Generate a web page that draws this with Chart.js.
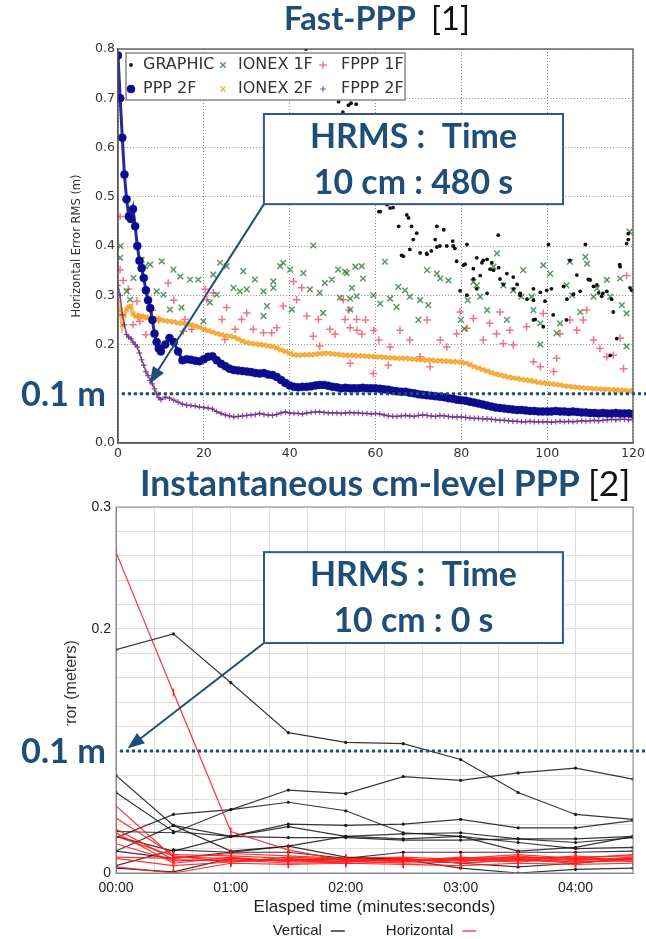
<!DOCTYPE html>
<html>
<head>
<meta charset="utf-8">
<script src="https://cdn.jsdelivr.net/npm/chart.js"></script>
<style>
  html, body { margin: 0; padding: 0; background: #fff; }
  body { width: 646px; height: 939px; position: relative; overflow: hidden; }
  canvas { position: absolute; left: 0; }
  #fastPPP { top: 0; }
  #instantPPP { top: 460px; }
</style>
</head>
<body>
<canvas id="fastPPP" width="646" height="460"></canvas>
<canvas id="instantPPP" width="646" height="479"></canvas>
<script>
// ---------- Fast-PPP [1] : horizontal error RMS (m) vs time (min) ----------
// epochs: every 0.5 min up to 10 min, then every minute
var fineT = [];
for (var t = 0; t <= 10; t += 0.5) fineT.push(t);
for (var t = 11; t <= 120; t++) fineT.push(t);

var ppp2f = [0.787,0.70,0.62,0.545,0.495,0.46,0.455,0.475,0.44,0.40,0.37,0.355,0.335,0.31,0.29,0.274,0.25,0.222,0.205,0.192,0.186,
  0.200,0.213,0.205,0.186,0.168,0.170,0.169,0.167,0.166,0.170,
  0.175,0.176,0.168,0.161,0.156,0.151,0.148,0.147,0.146,0.145,
  0.144,0.142,0.141,0.142,0.139,0.138,0.134,0.128,0.122,0.117,
  0.114,0.113,0.114,0.114,0.115,0.117,0.118,0.118,0.116,0.114,
  0.113,0.111,0.112,0.111,0.111,0.111,0.112,0.111,0.111,0.111,
  0.110,0.109,0.108,0.106,0.105,0.104,0.104,0.102,0.101,0.099,
  0.098,0.097,0.096,0.095,0.094,0.093,0.091,0.090,0.088,0.087,
  0.086,0.084,0.082,0.080,0.078,0.076,0.074,0.072,0.071,0.070,
  0.069,0.068,0.067,0.067,0.066,0.065,0.065,0.064,0.064,0.064,
  0.064,0.065,0.064,0.064,0.063,0.064,0.063,0.062,0.062,0.061,
  0.061,0.060,0.061,0.060,0.060,0.061,0.060,0.060,0.060,0.059];

var ionex2f = [0.29,0.27,0.24,0.26,0.272,0.276,0.278,0.262,0.258,0.257,0.256,0.258,0.256,0.255,0.254,0.254,0.252,0.253,0.251,0.250,0.250,
  0.248,0.247,0.246,0.244,0.243,0.242,0.240,0.238,0.235,0.231,
  0.228,0.225,0.222,0.220,0.218,0.217,0.215,0.211,0.207,0.204,
  0.202,0.201,0.200,0.199,0.197,0.196,0.193,0.189,0.186,0.182,
  0.179,0.178,0.179,0.179,0.179,0.180,0.181,0.182,0.182,0.181,
  0.180,0.179,0.178,0.178,0.178,0.177,0.177,0.176,0.176,0.175,
  0.175,0.174,0.173,0.173,0.172,0.172,0.172,0.171,0.170,0.169,
  0.169,0.168,0.168,0.167,0.167,0.166,0.166,0.165,0.165,0.164,
  0.162,0.159,0.155,0.152,0.149,0.146,0.143,0.140,0.138,0.136,
  0.134,0.132,0.131,0.129,0.128,0.127,0.125,0.123,0.122,0.121,
  0.120,0.119,0.118,0.116,0.115,0.114,0.113,0.112,0.111,0.111,
  0.110,0.110,0.109,0.109,0.108,0.108,0.107,0.107,0.106,0.106];

var fppp2f = [0.32,0.30,0.26,0.24,0.22,0.215,0.212,0.205,0.200,0.195,0.183,0.169,0.158,0.145,0.137,0.127,0.120,0.110,0.100,0.092,0.088,
  0.093,0.091,0.087,0.083,0.079,0.077,0.076,0.075,0.073,0.072,
  0.071,0.069,0.064,0.060,0.057,0.055,0.053,0.054,0.055,0.056,
  0.057,0.058,0.060,0.058,0.057,0.056,0.058,0.061,0.063,0.061,
  0.060,0.060,0.059,0.061,0.062,0.063,0.063,0.062,0.061,0.061,
  0.061,0.060,0.061,0.062,0.061,0.061,0.060,0.060,0.059,0.060,
  0.059,0.057,0.055,0.054,0.054,0.055,0.056,0.055,0.054,0.056,
  0.057,0.056,0.055,0.054,0.056,0.055,0.054,0.053,0.053,0.053,
  0.052,0.051,0.050,0.050,0.049,0.049,0.048,0.047,0.046,0.046,
  0.045,0.044,0.044,0.043,0.043,0.044,0.043,0.043,0.043,0.043,
  0.042,0.043,0.044,0.043,0.044,0.043,0.044,0.045,0.044,0.045,
  0.046,0.045,0.046,0.047,0.048,0.047,0.048,0.048,0.047,0.048];

// scattered single-frequency solutions [minute, metres]
var graphicPts = [[43.8,0.800],[51.4,0.693],[52.4,0.672],[53.7,0.686],[54.3,0.690],[55.5,0.688],[56.0,0.620],[58.0,0.560],[59.5,0.520],
  [60.8,0.470],[61.1,0.470],[62.7,0.484],[63.4,0.477],[64.1,0.478],[65.4,0.440],[66.1,0.381],[66.5,0.379],[67.3,0.463],[67.7,0.457],
  [68.0,0.393],[68.4,0.440],[68.8,0.413],[69.6,0.426],[70.4,0.386],[71.9,0.385],[72.0,0.383],[73.0,0.390],[73.9,0.413],[74.3,0.440],
  [74.3,0.398],[75.0,0.400],[75.9,0.433],[76.6,0.400],[78.0,0.410],[78.1,0.400],[78.5,0.395],[78.9,0.369],[79.7,0.309],[80.5,0.361],
  [80.9,0.363],[81.3,0.403],[81.3,0.300],[82.8,0.333],[82.8,0.354],[83.6,0.376],[83.6,0.313],[84.4,0.340],[84.8,0.366],[85.1,0.371],
  [86.0,0.373],[86.0,0.304],[86.7,0.353],[87.1,0.366],[87.5,0.351],[88.6,0.422],[88.7,0.356],[89.0,0.333],[89.8,0.322],[90.6,0.344],
  [92.1,0.337],[92.2,0.313],[93.0,0.322],[93.7,0.300],[93.7,0.304],[95.3,0.292],[96.8,0.313],[96.8,0.290],[96.8,0.250],[97.2,0.251],
  [98.4,0.306],[99.1,0.236],[99.5,0.288],[99.9,0.310],[100.3,0.403],[101.0,0.313],[101.4,0.260],[103.8,0.318],[104.5,0.250],[104.6,0.292],
  [105.3,0.371],[106.1,0.302],[106.9,0.341],[107.7,0.308],[108.9,0.403],[109.6,0.332],[110.0,0.331],[110.8,0.318],[111.6,0.321],
  [112.0,0.305],[112.7,0.298],[113.0,0.304],[113.9,0.308],[114.7,0.178],[115.0,0.292],[115.4,0.266],[116.2,0.212],[116.9,0.362],
  [117.0,0.358],[118.5,0.405],[118.9,0.413],[118.9,0.425],[119.3,0.315],[119.7,0.310]];

var ionex1fPts = [[0.5,0.376],[0.6,0.400],[2.0,0.308],[2.8,0.291],[3.6,0.335],[5.5,0.372],[6.3,0.359],[7.5,0.362],[9.0,0.308],[10.2,0.369],
  [10.6,0.301],[12.1,0.271],[12.9,0.352],[14.5,0.338],[14.8,0.275],[16.8,0.332],[18.7,0.332],[19.9,0.247],[21.4,0.285],[22.2,0.342],
  [23.0,0.301],[23.8,0.366],[25.3,0.359],[26.9,0.315],[28.4,0.308],[29.2,0.349],[30.0,0.312],[31.9,0.332],[33.9,0.308],[33.9,0.258],
  [34.7,0.278],[36.2,0.328],[36.2,0.315],[37.8,0.359],[38.5,0.366],[40.1,0.352],[40.5,0.271],[43.2,0.345],[44.7,0.312],[45.5,0.401],
  [47.0,0.305],[47.8,0.264],[48.2,0.325],[49.8,0.332],[51.3,0.352],[51.7,0.295],[52.9,0.348],[53.3,0.345],[54.1,0.271],[54.1,0.293],
  [54.5,0.315],[55.3,0.358],[55.6,0.298],[56.8,0.359],[57.1,0.334],[59.5,0.300],[61.1,0.283],[62.2,0.368],[63.4,0.293],[64.9,0.276],
  [65.3,0.317],[66.9,0.310],[68.0,0.297],[70.0,0.250],[70.4,0.290],[72.0,0.351],[72.3,0.280],[74.3,0.344],[75.1,0.334],[77.0,0.330],
  [79.9,0.250],[80.7,0.232],[81.5,0.290],[82.8,0.327],[83.6,0.320],[84.4,0.297],[86.0,0.270],[87.5,0.358],[88.3,0.385],[89.8,0.320],
  [90.6,0.250],[92.1,0.310],[94.0,0.297],[94.4,0.351],[96.4,0.297],[96.8,0.270],[98.4,0.243],[98.4,0.200],[99.1,0.361],[100.7,0.344],
  [102.2,0.223],[103.0,0.243],[104.5,0.320],[105.3,0.368],[105.8,0.300],[107.7,0.266],[108.9,0.378],[109.3,0.364],[110.8,0.297],
  [111.6,0.314],[113.9,0.331],[114.7,0.297],[117.0,0.334],[117.4,0.280],[118.5,0.263],[118.5,0.196],[119.2,0.429]];

var fppp1fPts = [[0.5,0.460],[0.5,0.352],[1.2,0.330],[2.4,0.312],[3.5,0.240],[4.4,0.288],[4.7,0.257],[5.1,0.247],[6.5,0.220],[8.0,0.270],
  [9.5,0.250],[11.7,0.325],[13.0,0.290],[15.2,0.227],[15.6,0.251],[17.2,0.231],[20.3,0.312],[20.7,0.291],[22.2,0.305],[24.2,0.251],
  [24.9,0.210],[25.3,0.275],[27.3,0.231],[28.8,0.251],[30.0,0.264],[31.5,0.231],[33.9,0.224],[35.8,0.224],[37.0,0.234],[38.5,0.278],
  [40.9,0.328],[41.6,0.291],[42.8,0.315],[44.0,0.258],[45.5,0.217],[46.7,0.251],[47.0,0.197],[49.4,0.231],[50.6,0.221],[52.5,0.291],
  [52.9,0.251],[53.8,0.270],[54.1,0.234],[54.1,0.162],[55.6,0.251],[55.7,0.229],[56.8,0.221],[57.7,0.250],[59.5,0.141],[59.6,0.229],
  [60.8,0.209],[63.0,0.158],[63.4,0.195],[65.7,0.229],[68.0,0.209],[70.4,0.175],[72.0,0.250],[72.7,0.155],[75.1,0.209],[76.6,0.195],
  [78.9,0.222],[79.7,0.266],[81.3,0.233],[82.8,0.253],[85.1,0.209],[86.6,0.243],[88.2,0.222],[89.0,0.266],[89.8,0.202],[91.3,0.229],
  [92.1,0.199],[95.2,0.236],[96.8,0.165],[98.4,0.155],[99.1,0.263],[101.5,0.145],[102.2,0.172],[103.0,0.222],[105.3,0.250],[106.9,0.229],
  [108.4,0.250],[109.2,0.270],[110.8,0.209],[112.3,0.192],[113.9,0.175],[115.4,0.178],[117.0,0.213],[117.8,0.151],[118.5,0.340]];

var legend1Order = ['GRAPHIC', 'IONEX 1F', 'FPPP 1F', 'PPP 2F', 'IONEX 2F', 'FPPP 2F'];

// ---------- Instantaneous cm-level PPP [2] : error (m) vs elapsed time (s) ----------
var times2 = [0, 30, 60, 90, 120, 150, 180, 210, 240, 270];

var verticalErr = [
  [0.183,0.196,0.156,0.115,0.107,0.106,0.093,0.066,0.048,0.044],
  [0.029,0.048,0.052,0.068,0.065,0.079,0.076,0.082,0.086,0.077],
  [0.080,0.039,0.018,0.022,0.013,0.011,0.004,0.000,0.003,0.004],
  [0.066,0.034,0.030,0.040,0.039,0.040,0.044,0.037,0.037,0.043],
  [0.034,0.033,0.052,0.058,0.051,0.033,0.030,0.025,0.020,0.021],
  [0.018,0.039,0.030,0.038,0.030,0.032,0.033,0.028,0.025,0.029],
  [0.030,0.018,0.030,0.029,0.029,0.027,0.027,0.028,0.028,0.030],
  [0.006,0.019,0.017,0.022,0.030,0.028,0.030,0.018,0.021,0.030],
  [0.018,0.012,0.017,0.017,0.012,0.017,0.017,0.017,0.017,0.018],
  [0.004,0.001,0.012,0.010,0.012,0.012,0.008,0.005,0.008,0.012]
];

var horizontalErr = [
  [0.263,0.148,0.034,0.019,0.010,0.012,0.008,0.011,0.009,0.010],
  [0.055,0.013,0.012,0.010,0.011,0.009,0.012,0.013,0.011,0.012],
  [0.045,0.015,0.014,0.012,0.009,0.011,0.010,0.012,0.013,0.014],
  [0.036,0.011,0.010,0.011,0.012,0.013,0.011,0.009,0.012,0.011],
  [0.033,0.008,0.013,0.009,0.010,0.008,0.009,0.014,0.010,0.013],
  [0.030,0.014,0.009,0.013,0.011,0.010,0.013,0.010,0.014,0.009],
  [0.024,0.010,0.011,0.008,0.009,0.012,0.008,0.011,0.008,0.012],
  [0.013,0.012,0.016,0.014,0.012,0.010,0.012,0.015,0.012,0.015],
  [0.005,0.000,0.008,0.007,0.008,0.007,0.006,0.008,0.007,0.008],
  [0.012,0.006,0.009,0.011,0.008,0.009,0.011,0.012,0.009,0.011]
];

// ---------- helpers ----------
function pts(list) { return list.map(function (p) { return { x: p[0], y: p[1] }; }); }
function series(tt, vv) { return tt.map(function (x, i) { return { x: x, y: vv[i] }; }); }

function fitSize(ctx, text, weight, family, width) {
  ctx.font = weight + ' 100px ' + family;
  return 100 * width / ctx.measureText(text).width;
}

function drawArrow(ctx, x1, y1, x2, y2, head, wide) {
  var ang = Math.atan2(y2 - y1, x2 - x1), c = Math.cos(ang), s = Math.sin(ang);
  ctx.beginPath();
  ctx.moveTo(x1, y1);
  ctx.lineTo(x2 - c * head * 0.8, y2 - s * head * 0.8);
  ctx.stroke();
  ctx.beginPath();
  ctx.moveTo(x2, y2);
  ctx.lineTo(x2 - head * c + wide / 2 * s, y2 - head * s - wide / 2 * c);
  ctx.lineTo(x2 - head * c - wide / 2 * s, y2 - head * s + wide / 2 * c);
  ctx.closePath();
  ctx.fill();
}

var NAVY = '#1F4E79';

var overlay = {
  id: 'overlay',
  afterDatasetsDraw: function (chart, args, o) {
    var ctx = chart.ctx, a = chart.chartArea;
    ctx.save();
    ctx.strokeStyle = o.frameColor;
    ctx.lineWidth = o.frameWidth;
    ctx.strokeRect(a.left, a.top, a.right - a.left, a.bottom - a.top);
    ctx.restore();
  },
  afterDraw: function (chart, args, o) {
    var ctx = chart.ctx, a = chart.chartArea, xs = chart.scales.x, ys = chart.scales.y;
    var midX = (a.left + a.right) / 2, midY = (a.top + a.bottom) / 2;
    ctx.save();
    ctx.textAlign = 'left';
    ctx.textBaseline = 'alphabetic';

    // title
    var ti = o.title;
    var ts = fitSize(ctx, ti.bold, '700', 'Lato', ti.width);
    ctx.font = '700 ' + ts + 'px Lato';
    ctx.fillStyle = NAVY;
    ctx.fillText(ti.bold, ti.left, ti.baseline);
    ctx.font = '400 ' + ts + 'px Lato';
    ctx.fillStyle = '#111';
    ctx.fillText(ti.rest, ti.restLeft, ti.baseline);

    // y axis title
    ctx.save();
    ctx.translate(a.left - o.yTitleOffset, midY);
    ctx.rotate(-Math.PI / 2);
    ctx.textAlign = 'center';
    ctx.textBaseline = 'middle';
    ctx.font = o.yTitleFont;
    ctx.fillStyle = '#333';
    ctx.fillText(o.yTitle, 0, 0);
    ctx.restore();

    // x axis title + bottom legend
    if (o.xTitle) {
      ctx.textAlign = 'center';
      ctx.font = o.xTitleFont;
      ctx.fillStyle = '#222';
      ctx.fillText(o.xTitle, midX, a.bottom + 39);
    }
    if (o.bottomLegend) {
      ctx.font = '15px "Liberation Sans"';
      ctx.textAlign = 'left';
      ctx.textBaseline = 'middle';
      var items = o.bottomLegend, total = 0, widths = [];
      items.forEach(function (it) { var w = ctx.measureText(it.text).width; widths.push(w); total += w + 9 + 14; });
      total += 41 * (items.length - 1);
      var lx = midX - total / 2, ly = a.bottom + 58;
      items.forEach(function (it, i) {
        ctx.fillStyle = '#222';
        ctx.fillText(it.text, lx, ly);
        lx += widths[i] + 9;
        ctx.strokeStyle = it.color;
        ctx.lineWidth = 1.5;
        ctx.beginPath(); ctx.moveTo(lx, ly); ctx.lineTo(lx + 14, ly); ctx.stroke();
        lx += 14 + 41;
      });
    }

    // legend inside the plot (matplotlib style, 3 columns)
    if (o.insideLegend) {
      var lg = o.insideLegend;
      var bx = a.left + lg.dx, by = a.top + lg.dy;
      ctx.fillStyle = '#fff';
      ctx.fillRect(bx, by, lg.w, lg.h);
      ctx.strokeStyle = '#888';
      ctx.lineWidth = 1.5;
      ctx.strokeRect(bx, by, lg.w, lg.h);
      ctx.font = '16px "DejaVu Sans"';
      ctx.textAlign = 'left';
      ctx.textBaseline = 'middle';
      legend1Order.forEach(function (name, i) {
        var col = i % 3, row = Math.floor(i / 3);
        var ds = chart.data.datasets.filter(function (d) { return d.label === name; })[0];
        var my = by + lg.rowY[row];
        ctx.save();
        ctx.fillStyle = ds.pointBackgroundColor;
        ctx.strokeStyle = ds.pointBorderColor;
        ctx.lineWidth = ds.pointBorderWidth;
        Chart.helpers.drawPoint(ctx, { pointStyle: ds.pointStyle, radius: ds.pointRadius, rotation: 0, borderWidth: ds.pointBorderWidth }, bx + lg.markX[col], my);
        ctx.restore();
        ctx.fillStyle = '#333';
        ctx.fillText(name, bx + lg.textX[col], my);
      });
    }

    // 0.1 m reference line
    var ry = ys.getPixelForValue(o.refValue);
    ctx.strokeStyle = NAVY;
    ctx.lineWidth = 3;
    ctx.setLineDash([3, 3]);
    ctx.beginPath();
    ctx.moveTo(a.left + 4, ry);
    ctx.lineTo(chart.width, ry);
    ctx.stroke();
    ctx.setLineDash([]);

    var ls = fitSize(ctx, o.refLabel, '700', 'Lato', 85);
    var cap = ls * 0.72;
    ctx.fillStyle = '#fff';
    ctx.fillRect(12, ry - cap / 2 - 13, a.left - 14, cap + 20);
    ctx.font = '700 ' + ls + 'px Lato';
    ctx.textAlign = 'left';
    ctx.textBaseline = 'alphabetic';
    ctx.fillStyle = NAVY;
    ctx.fillText(o.refLabel, 21, ry + cap / 2);

    // call-out box and arrow
    var b = o.box;
    var bx0 = xs.getPixelForValue(b.x0), bx1 = xs.getPixelForValue(b.x1);
    var by0 = ys.getPixelForValue(b.y0), by1 = ys.getPixelForValue(b.y1);
    var tx = xs.getPixelForValue(o.tip[0]), ty = ys.getPixelForValue(o.tip[1]);
    ctx.strokeStyle = NAVY;
    ctx.fillStyle = NAVY;
    ctx.lineWidth = 2;
    drawArrow(ctx, bx0, by1, tx, ty, 17, 13);
    ctx.fillStyle = '#fff';
    ctx.fillRect(bx0, by0, bx1 - bx0, by1 - by0);
    ctx.strokeStyle = '#2F5597';
    ctx.lineWidth = 2;
    ctx.strokeRect(bx0, by0, bx1 - bx0, by1 - by0);
    var hs = fitSize(ctx, b.lines[0], '700', 'Lato', 207);
    ctx.font = '700 ' + hs + 'px Lato';
    ctx.fillStyle = NAVY;
    ctx.textAlign = 'center';
    ctx.fillText(b.lines[0], (bx0 + bx1) / 2, by0 + 34);
    ctx.fillText(b.lines[1], (bx0 + bx1) / 2, by0 + 79.5);
    ctx.restore();
  }
};
Chart.register(overlay);

// ---------- chart 1 ----------
var tick1 = { family: 'DejaVu Sans', size: 12.5 };
var purple = 'rgba(118,48,138,0.85)', orange = 'rgba(245,162,38,0.85)';
new Chart(document.getElementById('fastPPP'), {
  type: 'scatter',
  data: {
    datasets: [
      { label: 'PPP 2F', data: series(fineT, ppp2f), showLine: true, borderColor: 'rgba(16,16,150,0.9)', borderWidth: 3,
        pointStyle: 'circle', pointRadius: 4, pointBackgroundColor: '#0c0c8e', pointBorderColor: '#0c0c8e', pointBorderWidth: 0.5 },
      { label: 'FPPP 2F', data: series(fineT, fppp2f), showLine: true, borderColor: purple, borderWidth: 1.5,
        pointStyle: 'cross', pointRadius: 2.8, pointBackgroundColor: purple, pointBorderColor: purple, pointBorderWidth: 1.2 },
      { label: 'IONEX 2F', data: series(fineT, ionex2f), showLine: true, borderColor: 'rgba(245,165,45,0.7)', borderWidth: 4,
        pointStyle: 'crossRot', pointRadius: 3.4, pointBackgroundColor: orange, pointBorderColor: orange, pointBorderWidth: 1.4 },
      { label: 'GRAPHIC', data: pts(graphicPts), pointStyle: 'circle', pointRadius: 1.9,
        pointBackgroundColor: '#111', pointBorderColor: '#111', pointBorderWidth: 0 },
      { label: 'IONEX 1F', data: pts(ionex1fPts), pointStyle: 'crossRot', pointRadius: 4,
        pointBackgroundColor: 'rgba(50,125,60,0.8)', pointBorderColor: 'rgba(50,125,60,0.8)', pointBorderWidth: 1.5 },
      { label: 'FPPP 1F', data: pts(fppp1fPts), pointStyle: 'cross', pointRadius: 3.8,
        pointBackgroundColor: 'rgba(235,70,90,0.75)', pointBorderColor: 'rgba(235,70,90,0.75)', pointBorderWidth: 1.5 }
    ]
  },
  options: {
    responsive: false,
    animation: false,
    layout: { padding: { top: 49, right: 13, bottom: 0, left: 0 } },
    scales: {
      x: {
        type: 'linear', min: 0, max: 120,
        ticks: { stepSize: 20, padding: 3, font: tick1, color: '#333', maxRotation: 0, autoSkip: false },
        grid: { color: 'rgba(110,110,110,0.8)', lineWidth: 1, drawTicks: false },
        border: { color: '#555', width: 1.2, dash: [1, 2] },
        afterFit: function (s) { s.height = 17; s.paddingLeft = 0; s.paddingRight = 0; }
      },
      y: {
        min: 0, max: 0.8,
        ticks: { stepSize: 0.1, padding: 3, font: tick1, color: '#333', autoSkip: false,
          callback: function (v) { return v.toFixed(1); } },
        grid: { color: 'rgba(110,110,110,0.8)', lineWidth: 1, drawTicks: false },
        border: { color: '#555', width: 1.2, dash: [1, 2] },
        afterFit: function (s) { s.width = 118; s.paddingTop = 0; s.paddingBottom = 0; }
      }
    },
    plugins: {
      legend: { display: false },
      tooltip: { enabled: false },
      overlay: {
        frameColor: '#555', frameWidth: 1.3,
        title: { bold: 'Fast-PPP', rest: '[1]', left: 284, width: 132, restLeft: 431, baseline: 30 },
        yTitle: 'Horizontal Error RMS (m)', yTitleFont: '11.5px "DejaVu Sans"', yTitleOffset: 41,
        insideLegend: { dx: 8, dy: 4, w: 279, h: 47, rowY: [12, 36], markX: [5, 97, 197], textX: [17, 112, 215] },
        refValue: 0.1, refLabel: '0.1 m',
        box: { x0: 34, x1: 103.7, y0: 0.668, y1: 0.485, lines: ['HRMS :  Time', '10 cm : 480 s'] },
        tip: [7.3, 0.12]
      }
    }
  }
});

// ---------- chart 2 ----------
var datasets2 = [];
horizontalErr.forEach(function (vals) {
  datasets2.push({ label: 'Horizontal', data: series(times2, vals), showLine: true,
    borderColor: 'rgba(255,30,30,0.9)', borderWidth: 1.2,
    pointStyle: 'line', pointRotation: 90, pointRadius: 4,
    pointBackgroundColor: 'rgba(255,30,30,0.9)', pointBorderColor: 'rgba(255,30,30,0.9)', pointBorderWidth: 1.5 });
});
verticalErr.forEach(function (vals) {
  datasets2.push({ label: 'Vertical', data: series(times2, vals), showLine: true,
    borderColor: 'rgba(20,20,20,0.85)', borderWidth: 1.2,
    pointStyle: 'circle', pointRadius: 1.6,
    pointBackgroundColor: '#1a1a1a', pointBorderColor: '#1a1a1a', pointBorderWidth: 0 });
});

var tick2 = { family: 'Liberation Sans', size: 14 };
new Chart(document.getElementById('instantPPP'), {
  type: 'scatter',
  data: { datasets: datasets2 },
  options: {
    responsive: false,
    animation: false,
    layout: { padding: { top: 47, right: 13, bottom: 0, left: 0 } },
    scales: {
      x: {
        type: 'linear', min: 0, max: 270,
        ticks: { stepSize: 20, padding: 7, font: tick2, color: '#222', maxRotation: 0, autoSkip: false,
          callback: function (v) { return v % 60 === 0 ? '0' + (v / 60) + ':00' : ''; } },
        grid: { color: '#dedede', lineWidth: 1, drawTicks: false },
        border: { color: '#888', width: 1 },
        afterFit: function (s) { s.height = 66; s.paddingLeft = 0; s.paddingRight = 0; }
      },
      y: {
        min: 0, max: 0.3,
        ticks: { stepSize: 0.02, padding: 5, font: tick2, color: '#222', autoSkip: false,
          callback: function (v) {
            var r = Math.round(v * 10);
            if (Math.abs(v * 10 - r) > 1e-6) return '';
            return r === 0 ? '0' : (r / 10).toString();
          } },
        grid: { color: '#dedede', lineWidth: 1, drawTicks: false },
        border: { color: '#888', width: 1 },
        afterFit: function (s) { s.width = 116; s.paddingTop = 0; s.paddingBottom = 0; }
      }
    },
    plugins: {
      legend: { display: false },
      tooltip: { enabled: false },
      overlay: {
        frameColor: '#8a8a8a', frameWidth: 1,
        title: { bold: 'Instantaneous cm-level PPP', rest: '[2]', left: 140, width: 440, restLeft: 588, baseline: 35.5 },
        yTitle: 'Error (meters)', yTitleFont: '16px "Liberation Sans"', yTitleOffset: 44,
        xTitle: 'Elasped time (minutes:seconds)', xTitleFont: '17px "Liberation Sans"',
        bottomLegend: [{ text: 'Vertical', color: '#333' }, { text: 'Horizontal', color: '#ff4a4a' }],
        refValue: 0.1, refLabel: '0.1 m',
        box: { x0: 77.3, x1: 233.4, y0: 0.263, y1: 0.1885, lines: ['HRMS :  Time', '10 cm : 0 s'] },
        tip: [6, 0.102]
      }
    }
  }
});
</script>
</body>
</html>
